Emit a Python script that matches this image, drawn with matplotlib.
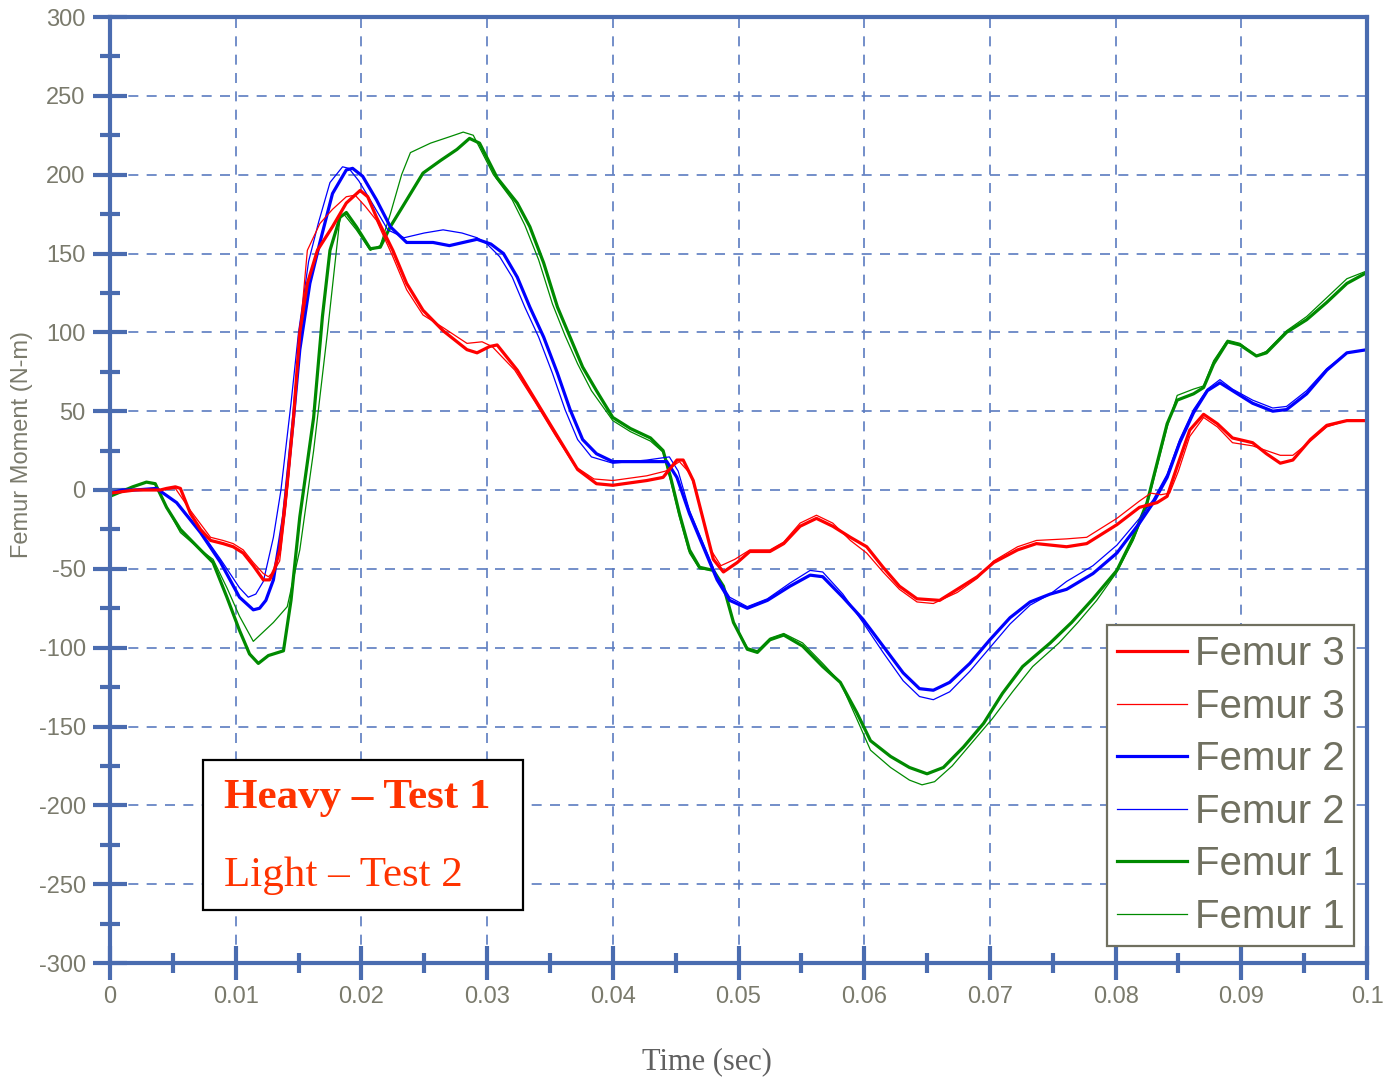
import numpy as np
import matplotlib
matplotlib.use("Agg")
import matplotlib.pyplot as plt
from matplotlib.patches import Rectangle
from matplotlib.lines import Line2D

plt.rcParams['axes.unicode_minus'] = False

# femur moment traces, time in ms, moment in N-m
t_f3_heavy = [0, 1, 2, 3, 4, 4.5, 5.2, 5.6, 6.4, 7.2, 8.0, 9.0, 9.8, 10.6, 11.4, 12.2, 12.7, 13.1,
              13.5, 14.1, 14.6, 15.1, 15.7, 16.5, 17.7, 18.8, 19.9, 20.5, 21.2, 22.5, 23.6, 24.9,
              26.5, 28.4, 29.2, 30.2, 30.8, 32.4, 34.0, 35.6, 37.2, 38.7, 40.0, 42.7, 44.0, 45.1,
              45.6, 46.4, 47.2, 48.0, 48.8, 49.9, 50.9, 52.5, 53.6, 54.9, 56.2, 57.5, 58.9, 60.2,
              61.5, 62.8, 64.2, 66.0, 67.4, 69.0, 70.3, 72.2, 73.7, 76.1, 77.7, 80.1, 81.9, 83.3,
              84.1, 84.9, 85.9, 87.0, 88.1, 89.3, 90.9, 92.0, 93.1, 94.1, 95.5, 96.8, 98.4, 100]
m_f3_heavy = [-2, -1, 0, 0, 0, 1, 2, 1, -15, -25, -32, -34, -36, -40, -48, -57, -57, -50,
              -38, 4, 46, 100, 131, 152, 167, 182, 190, 186, 173, 152, 131, 114,
              101, 89, 87, 91, 92, 76, 55, 34, 13, 4, 3, 6, 8, 19,
              19, 6, -19, -44, -52, -46, -39, -39, -34, -23, -18, -23, -30, -36,
              -49, -61, -69, -70, -63, -55, -46, -38, -34, -36, -34, -22, -11, -8,
              -4, 15, 38, 48, 42, 33, 30, 23, 17, 19, 32, 41, 44, 44]

t_f3_light = [0, 2, 4, 5.2, 6.4, 8.0, 9.0, 9.8, 10.6, 11.4, 12.2, 12.6, 13.0, 13.5, 14.0, 14.5,
              15.0, 15.7, 16.7, 17.7, 18.8, 19.5, 20.3, 21.2, 22.5, 23.6, 24.9, 26.5, 28.4, 29.6,
              30.4, 32.2, 33.8, 35.4, 37.0, 38.5, 40.0, 42.7, 44.2, 45.3, 46.2, 47.0, 47.8, 48.6,
              49.7, 50.9, 52.5, 53.6, 54.9, 56.2, 57.5, 58.9, 60.2, 61.5, 62.8, 64.2, 65.5, 67.4,
              69.0, 70.3, 72.2, 73.7, 76.1, 77.7, 80.1, 81.9, 82.8, 83.6, 84.3, 85.0, 85.9, 87.0,
              88.1, 89.3, 90.9, 92.0, 93.1, 94.1, 95.5, 96.8, 98.4, 100]
m_f3_light = [-2, 0, 0, 1, -13, -30, -32, -34, -38, -46, -53, -55, -52, -45, -10, 35,
              90, 152, 169, 178, 186, 187, 180, 171, 148, 127, 111, 103, 93, 94,
              91, 76, 56, 35, 15, 7, 6, 9, 12, 18, 10, -12, -38, -48,
              -44, -38, -38, -33, -21, -16, -21, -32, -40, -52, -63, -71, -72, -65,
              -56, -45, -36, -32, -31, -30, -18, -7, -2, -3, -2, 12, 34, 46,
              40, 30, 28, 25, 22, 22, 31, 40, 44, 44]

t_f2_heavy = [0, 1, 2, 3.7, 5.3, 7.2, 8.8, 10.3, 11.4, 11.9, 12.4, 13.0, 13.8, 14.6, 15.1, 15.9,
              16.7, 17.7, 18.8, 19.3, 20.1, 21.2, 22.3, 23.6, 25.7, 27.0, 29.2, 30.3, 31.3, 32.4,
              33.4, 34.5, 35.6, 36.6, 37.6, 38.7, 40.0, 42.7, 44.3, 45.1, 46.1, 47.2, 48.3, 49.3,
              50.7, 52.3, 54.1, 55.7, 56.7, 58.3, 59.9, 61.5, 63.1, 64.4, 65.5, 66.8, 68.4, 70.0,
              71.6, 73.2, 74.8, 76.1, 78.2, 80.1, 81.9, 83.0, 84.1, 85.1, 86.2, 87.3, 88.3, 89.3,
              90.9, 92.5, 93.6, 95.2, 96.8, 98.4, 100]
m_f2_heavy = [-2, 0, 0, 1, -8, -27, -46, -68, -76, -75, -70, -57, -17, 46, 89, 131,
              157, 188, 203, 204, 199, 184, 167, 157, 157, 155, 159, 156, 150, 135,
              116, 97, 74, 51, 32, 23, 18, 18, 18, 8, -15, -36, -57, -70,
              -75, -70, -61, -54, -55, -68, -82, -99, -116, -126, -127, -122, -110, -95,
              -81, -71, -66, -63, -53, -40, -21, -8, 8, 30, 49, 63, 68, 63,
              55, 50, 51, 61, 76, 87, 89]

t_f2_light = [0, 2, 3.7, 5.3, 7.2, 8.8, 10.3, 11.0, 11.6, 12.2, 13.0, 13.6, 14.4, 15.0, 15.8,
              16.6, 17.5, 18.5, 19.0, 19.8, 21.0, 22.1, 23.4, 25.0, 26.5, 28.0, 29.2, 30.0, 31.0,
              32.0, 33.0, 34.1, 35.2, 36.2, 37.2, 38.3, 40.0, 42.7, 44.5, 45.2, 46.1, 47.2, 48.3,
              49.3, 50.7, 52.3, 54.1, 55.7, 56.7, 58.3, 59.9, 61.5, 63.1, 64.4, 65.5, 66.8, 68.4,
              70.0, 71.6, 73.2, 74.8, 76.1, 78.2, 80.1, 81.9, 83.0, 84.1, 85.1, 86.2, 87.3, 88.3,
              89.3, 90.9, 92.5, 93.6, 95.2, 96.8, 98.4, 100]
m_f2_light = [-2, 0, 1, -8, -26, -44, -62, -68, -66, -58, -30, 0, 55, 100, 145,
              170, 195, 205, 204, 196, 180, 165, 160, 163, 165, 163, 160, 156, 148,
              135, 116, 97, 74, 51, 32, 21, 17, 19, 21, 12, -13, -34, -55,
              -68, -74, -69, -59, -51, -52, -66, -84, -103, -121, -131, -133, -128, -115,
              -100, -85, -73, -66, -58, -48, -35, -18, -6, 10, 32, 51, 64, 70,
              64, 57, 52, 53, 63, 77, 87, 89]

t_f1_heavy = [0, 1.8, 2.9, 3.6, 4.5, 5.6, 7.2, 8.2, 9.3, 10.3, 11.1, 11.8, 12.6, 13.8, 14.4,
              15.1, 16.2, 16.9, 17.5, 18.3, 18.8, 19.6, 20.7, 21.5, 22.3, 23.3, 24.9, 26.3, 27.6,
              28.6, 29.4, 30.8, 32.4, 33.4, 34.5, 35.6, 36.6, 37.6, 38.7, 40.0, 41.4, 43.0, 44.0,
              44.6, 45.3, 46.1, 46.9, 48.0, 48.8, 49.6, 50.7, 51.5, 52.5, 53.6, 55.1, 56.7, 58.1,
              59.4, 60.5, 62.1, 63.6, 65.0, 66.3, 67.9, 69.5, 71.0, 72.6, 74.8, 76.5, 78.2, 80.1,
              81.4, 82.5, 83.3, 84.1, 84.9, 86.2, 87.0, 87.8, 88.9, 89.9, 91.2, 92.0, 93.6, 95.2,
              96.8, 98.4, 100]
m_f1_heavy = [-4, 2, 5, 4, -11, -25, -38, -46, -68, -89, -104, -110, -105, -102, -70,
              -17, 46, 110, 152, 173, 176, 167, 153, 154, 167, 180, 201, 209, 216,
              223, 220, 198, 182, 167, 144, 116, 97, 78, 63, 46, 39, 33, 25,
              8, -15, -38, -49, -51, -61, -84, -101, -103, -95, -92, -99, -112, -122,
              -141, -159, -169, -176, -180, -176, -163, -148, -129, -112, -97, -84, -69, -51,
              -30, -8, 17, 42, 57, 61, 65, 80, 94, 92, 85, 87, 100, 108,
              119, 131, 138]

t_f1_light = [0, 1.8, 2.9, 3.6, 4.5, 5.6, 7.2, 8.2, 9.3, 10.3, 11.4, 12.2, 13.0, 14.1, 15.1,
              16.2, 17.3, 18.3, 18.6, 19.6, 20.7, 21.5, 22.3, 23.2, 23.9, 25.5, 27.0, 28.1, 28.9,
              30.5, 32.0, 33.0, 34.1, 35.2, 36.2, 37.2, 38.3, 40.0, 41.4, 43.0, 44.0, 44.6, 45.3,
              46.1, 46.9, 48.0, 48.8, 49.6, 50.7, 51.5, 52.5, 53.6, 55.1, 56.7, 58.1, 59.4, 60.5,
              62.1, 63.6, 64.6, 65.6, 67.0, 68.6, 70.2, 71.8, 73.4, 75.5, 77.0, 78.5, 80.1, 81.4,
              82.5, 83.3, 84.1, 84.9, 86.2, 87.0, 87.8, 88.9, 89.9, 91.2, 92.0, 93.6, 95.2, 96.8,
              98.4, 100]
m_f1_light = [-4, 2, 5, 4, -11, -27, -38, -44, -62, -80, -96, -90, -84, -74, -38,
              25, 100, 173, 175, 165, 152, 155, 175, 200, 214, 220, 224, 227, 225,
              200, 184, 168, 146, 118, 98, 80, 63, 44, 37, 31, 24, 6, -17,
              -40, -50, -51, -61, -84, -100, -102, -94, -91, -97, -110, -122, -145, -165,
              -176, -184, -187, -185, -175, -160, -145, -128, -112, -97, -84, -70, -52, -32,
              -10, 15, 40, 60, 64, 66, 82, 95, 93, 85, 88, 101, 110, 122, 134,
              139]

x_ticks = [0, 0.01, 0.02, 0.03, 0.04, 0.05, 0.06, 0.07, 0.08, 0.09, 0.1]
x_labels = ['0', '0.01', '0.02', '0.03', '0.04', '0.05', '0.06', '0.07', '0.08', '0.09', '0.1']
y_ticks = [-300, -250, -200, -150, -100, -50, 0, 50, 100, 150, 200, 250, 300]

RED, BLUE, GREEN = '#ff0000', '#0000ff', '#008a00'
AXIS = '#4a6cb0'
GRID = '#5b7cc0'
LABEL = '#7a7a6c'
THICK, THIN = 2.3, 0.9

fig = plt.figure(figsize=(13.84, 10.78), dpi=100)
ax = fig.add_axes([110 / 1384, 1 - 963 / 1078, 1257 / 1384, 946 / 1078])

ms = 1e-3
ax.plot(np.array(t_f1_light) * ms, m_f1_light, color=GREEN, lw=THIN)
ax.plot(np.array(t_f1_heavy) * ms, m_f1_heavy, color=GREEN, lw=THICK)
ax.plot(np.array(t_f2_light) * ms, m_f2_light, color=BLUE, lw=THIN)
ax.plot(np.array(t_f2_heavy) * ms, m_f2_heavy, color=BLUE, lw=THICK)
ax.plot(np.array(t_f3_light) * ms, m_f3_light, color=RED, lw=THIN)
ax.plot(np.array(t_f3_heavy) * ms, m_f3_heavy, color=RED, lw=THICK)

ax.set_xlim(0, 0.1)
ax.set_ylim(-300, 300)
ax.set_xticks(x_ticks)
ax.set_xticklabels(x_labels)
ax.set_xticks(np.arange(0.005, 0.1, 0.01), minor=True)
ax.set_yticks(y_ticks)
ax.set_yticks(np.arange(-275, 300, 50), minor=True)

ax.set_axisbelow(True)
ax.grid(True, which='major', color=GRID, lw=1.2, ls=(0, (6, 5)))

for s in ax.spines.values():
    s.set_color(AXIS)
    s.set_linewidth(3)

ax.tick_params(which='major', direction='inout', length=25, width=3, color=AXIS,
               labelcolor=LABEL, labelsize=17, pad=4)
ax.tick_params(which='minor', direction='inout', length=14, width=3, color=AXIS)
ax.tick_params(axis='y', which='major', pad=5)
for lab in ax.get_xticklabels() + ax.get_yticklabels():
    lab.set_family('Liberation Sans')

ax.set_ylabel('Femur Moment (N-m)', color=LABEL, fontsize=17, family='Liberation Sans')
ax.yaxis.set_label_coords(-0.07, 0.548)
ax.yaxis.label.set_va('center')
ax.set_xlabel('Time (sec)', color='#606060', fontsize=22, family='Liberation Serif')
ax.xaxis.set_label_coords(0.475, -0.1047)
ax.xaxis.label.set_va('center')

handles = [
    Line2D([], [], color=RED, lw=THICK), Line2D([], [], color=RED, lw=THIN),
    Line2D([], [], color=BLUE, lw=THICK), Line2D([], [], color=BLUE, lw=THIN),
    Line2D([], [], color=GREEN, lw=THICK), Line2D([], [], color=GREEN, lw=THIN),
]
names = ['Femur 3', 'Femur 3', 'Femur 2', 'Femur 2', 'Femur 1', 'Femur 1']
leg = ax.legend(handles, names, loc='lower right', bbox_to_anchor=(0.990, 0.018),
                borderaxespad=0, fancybox=False, framealpha=1, handlelength=1.75,
                handletextpad=0.18, labelspacing=0.36, borderpad=0.25,
                prop={'family': 'Liberation Sans', 'size': 29})
leg.get_frame().set_edgecolor('#707060')
leg.get_frame().set_linewidth(1.6)
for txt in leg.get_texts():
    txt.set_color('#707060')

ax.add_patch(Rectangle((0.074, 0.056), 0.2546, 0.1586, transform=ax.transAxes,
                       facecolor='white', edgecolor='black', lw=1.6, zorder=5))
ax.text(0.0907, 0.1744, 'Heavy \u2013 Test 1', transform=ax.transAxes, color='#ff3300',
        fontsize=31, fontweight='bold', family='Liberation Serif', va='center', zorder=6)
ax.text(0.0907, 0.092, 'Light \u2013 Test 2', transform=ax.transAxes, color='#ff3300',
        fontsize=31, family='Liberation Serif', va='center', zorder=6)

fig.savefig('out.png', dpi=100)
